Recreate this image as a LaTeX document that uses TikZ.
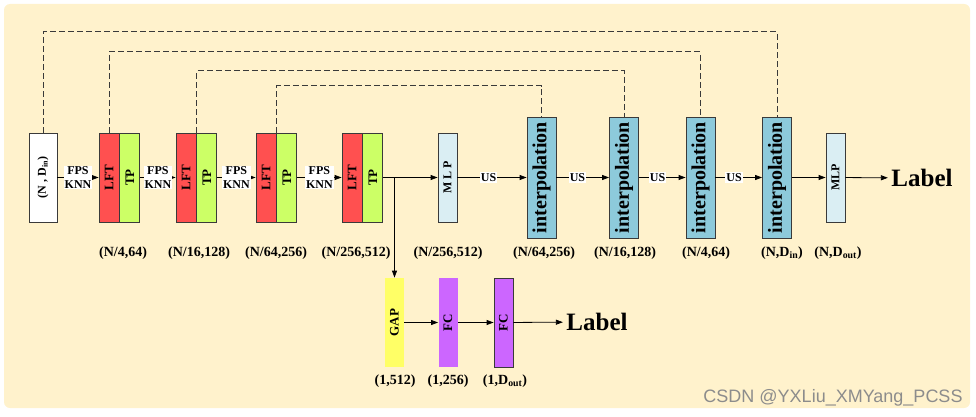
\documentclass[tikz,border=0pt]{standalone}
\usepackage{fontspec}
\setmainfont{Liberation Serif}
\newfontfamily\wmfont{Liberation Sans}
\usepackage{tikz}
\usetikzlibrary{positioning, arrows.meta}
\definecolor{bgcream}{HTML}{FFF2CC}
\definecolor{lftred}{HTML}{FF5050}
\definecolor{tpgreen}{HTML}{CCFF66}
\definecolor{mlpblue}{HTML}{DAEEF3}
\definecolor{interpteal}{HTML}{8DCADB}
\definecolor{gapyellow}{HTML}{FFFF66}
\definecolor{fcpurple}{HTML}{CC66FF}
\definecolor{edgegray}{HTML}{3A3A3A}
\tikzset{
    blk/.style={draw=edgegray, line width=0.8pt, inner sep=0pt, minimum width=20pt, minimum height=89pt, font=\fontsize{13}{14}\selectfont\bfseries},
    inbox/.style={blk, fill=white, minimum width=28pt, font=\fontsize{12}{14}\selectfont\bfseries},
    lftbox/.style={blk, fill=lftred},
    tpbox/.style={blk, fill=tpgreen},
    mlpbox/.style={blk, fill=mlpblue, minimum width=19pt, font=\fontsize{12}{14}\selectfont\bfseries},
    interpbox/.style={blk, fill=interpteal, minimum width=29pt, minimum height=121pt, font=\fontsize{20}{22}\selectfont\bfseries},
    gapbox/.style={blk, draw=none, fill=gapyellow, minimum width=19pt},
    fcbox/.style={gapbox, fill=fcpurple},
    arr/.style={-{Triangle[length=7pt,width=5pt]}, line width=0.8pt},
    skipline/.style={dash pattern=on 6pt off 3pt, line width=1pt, draw=edgegray},
    elbl/.style={fill=white, inner sep=1pt, align=center, font=\fontsize{12}{14}\selectfont\bfseries, midway},
    dimlbl/.style={font=\fontsize{14}{15}\selectfont\bfseries},
    outlbl/.style={font=\fontsize{25}{28}\selectfont\bfseries},
}

\begin{document}
\begin{tikzpicture}[x=1pt, y=-1pt]
    \useasboundingbox (0,0) rectangle (976,417);
    \fill[bgcream, rounded corners=6pt] (4,4) rectangle (970,408);

    % encoder
    \node[inbox] (inp) at (43,177.5) {\rotatebox{90}{(N , D\textsubscript{in})}};
    \node[lftbox] (lft1) at (109,177.5) {\rotatebox{90}{LFT}};
    \node[tpbox, right=0pt of lft1] (tp1) {\rotatebox{90}{TP}};
    \node[lftbox] (lft2) at (186,177.5) {\rotatebox{90}{LFT}};
    \node[tpbox, right=0pt of lft2] (tp2) {\rotatebox{90}{TP}};
    \node[lftbox] (lft3) at (266,177.5) {\rotatebox{90}{LFT}};
    \node[tpbox, right=0pt of lft3] (tp3) {\rotatebox{90}{TP}};
    \node[lftbox] (lft4) at (352,177.5) {\rotatebox{90}{LFT}};
    \node[tpbox, right=0pt of lft4] (tp4) {\rotatebox{90}{TP}};

    % decoder
    \node[mlpbox] (mlp1) at (447.5,177.5) {\rotatebox{90}{M L P}};
    \node[interpbox] (i1) at (541.5,177.5) {\rotatebox{90}{interpolation}};
    \node[interpbox] (i2) at (624,177.5) {\rotatebox{90}{interpolation}};
    \node[interpbox] (i3) at (700.5,177.5) {\rotatebox{90}{interpolation}};
    \node[interpbox] (i4) at (777,177.5) {\rotatebox{90}{interpolation}};
    \node[mlpbox] (mlp2) at (835.5,177.5) {\rotatebox{90}{MLP}};
    \node[outlbl] (seg) at (922,178) {Label};

    % classification head
    \node[gapbox] (gap) at (394.5,322.5) {\rotatebox{90}{GAP}};
    \node[fcbox] (fc1) at (448,322.5) {\rotatebox{90}{FC}};
    \node[fcbox, draw=edgegray] (fc2) at (503.5,322.5) {\rotatebox{90}{FC}};
    \node[outlbl] (cls) at (597,322) {Label};

    \draw[arr] (inp) -- (lft1) node[elbl] {FPS\\KNN};
    \draw[arr] (tp1) -- (lft2) node[elbl] {FPS\\KNN};
    \draw[arr] (tp2) -- (lft3) node[elbl] {FPS\\KNN};
    \draw[arr] (tp3) -- (lft4) node[elbl] {FPS\\KNN};
    \draw[arr] (tp4) -- (mlp1);
    \draw[arr] (mlp1) -- (i1) node[elbl, pos=0.45] {US};
    \draw[arr] (i1) -- (i2) node[elbl, pos=0.4] {US};
    \draw[arr] (i2) -- (i3) node[elbl, pos=0.4] {US};
    \draw[arr] (i3) -- (i4) node[elbl, pos=0.4] {US};
    \draw[arr] (i4) -- (mlp2);
    \draw[arr] (mlp2) -- (seg);

    \coordinate (split) at (gap.north |- tp4.east);
    \draw[arr] (split) -- (gap);
    \draw[arr] (gap) -- (fc1);
    \draw[arr] (fc1) -- (fc2);
    \draw[arr] (fc2) -- (cls);

    % skip connections
    \draw[skipline] (inp.north) -- (inp.north |- 0,32) -| (i4.north);
    \draw[skipline] (lft1.north) -- (lft1.north |- 0,52) -| (i3.north);
    \draw[skipline] (lft2.north east) -- (lft2.north east |- 0,71) -| (i2.north);
    \draw[skipline] (lft3.north east) -- (lft3.north east |- 0,86) -| (i1.north);

    % shapes
    \node[dimlbl] (s1) at (123,253) {(N/4,64)};
    \node[dimlbl] (s2) at (199,253) {(N/16,128)};
    \node[dimlbl] (s3) at (276,253) {(N/64,256)};
    \node[dimlbl] (s4) at (356,253) {(N/256,512)};
    \node[dimlbl] (s5) at (448,253) {(N/256,512)};
    \node[dimlbl] (s6) at (544,253) {(N/64,256)};
    \node[dimlbl] (s7) at (625,253) {(N/16,128)};
    \node[dimlbl] (s8) at (706,253) {(N/4,64)};
    \node[dimlbl] (s9) at (782,253) {(N,D\textsubscript{in})};
    \node[dimlbl] (s10) at (838,253) {(N,D\textsubscript{out})};
    \node[dimlbl] (c1) at (395,381) {(1,512)};
    \node[dimlbl] (c2) at (448,381) {(1,256)};
    \node[dimlbl] (c3) at (505,381) {(1,D\textsubscript{out})};

    \node[font=\wmfont\fontsize{18}{19}\selectfont, text=black!45] (wm) at (833,398) {CSDN @YXLiu\_XMYang\_PCSS};
\end{tikzpicture}
\end{document}
